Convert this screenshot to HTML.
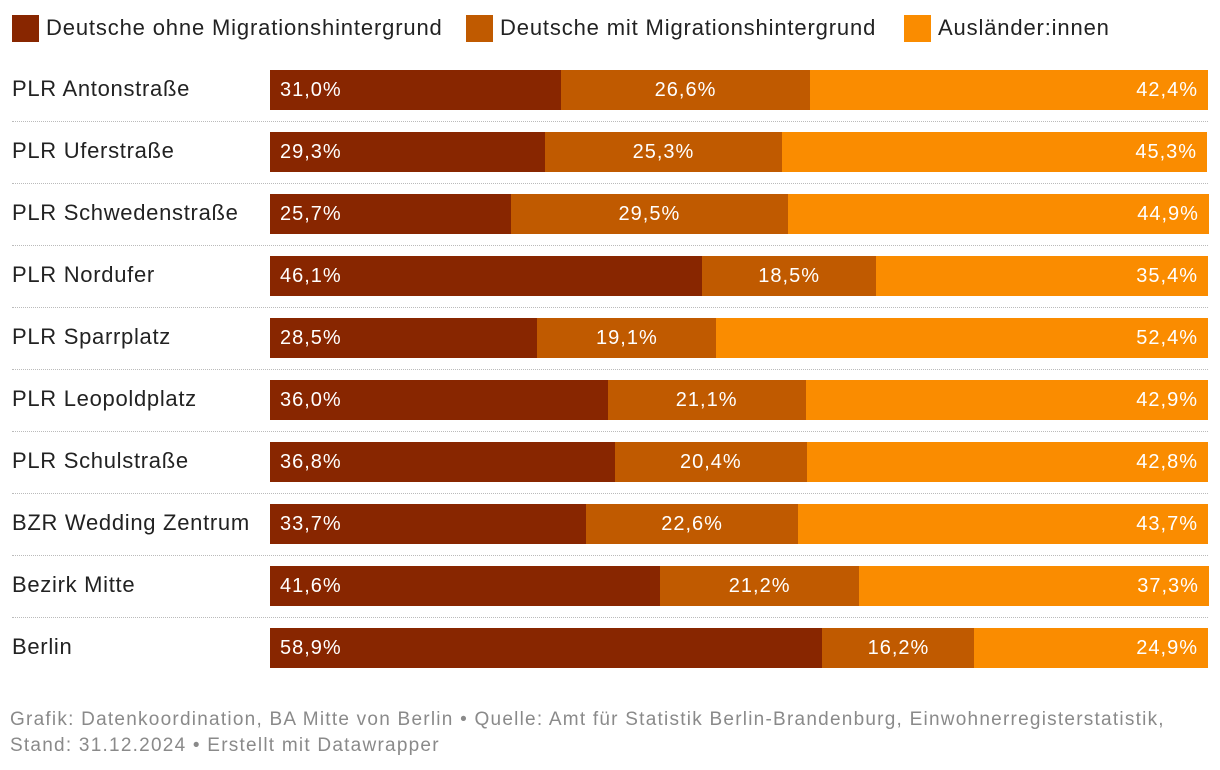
<!DOCTYPE html>
<html><head><meta charset="utf-8">
<style>
body{margin:0;background:#fff;width:1220px;height:770px;overflow:hidden;font-family:"Liberation Sans",sans-serif;position:relative}
.leg{position:absolute;top:14px;height:28px;display:flex;align-items:center;font-size:22px;letter-spacing:0.85px;color:#222;white-space:nowrap}
.sw{width:27px;height:27px;margin-right:7px}
.lbl{position:absolute;left:12px;font-size:22px;letter-spacing:0.7px;color:#222;white-space:nowrap}
.sep{position:absolute;left:12px;width:1196px;border-top:1px dotted #bbb}
.seg{position:absolute;height:40px;color:#fff;font-size:20px;letter-spacing:1px;line-height:40px;box-sizing:border-box;white-space:nowrap}
.foot{position:absolute;left:10px;font-size:19px;letter-spacing:1.24px;color:#8a8a8a;white-space:nowrap}
</style></head><body>
<div class="leg" style="left:12px"><div class="sw" style="background:#882600"></div>Deutsche ohne Migrationshintergrund</div>
<div class="leg" style="left:466px"><div class="sw" style="background:#c05a00"></div>Deutsche mit Migrationshintergrund</div>
<div class="leg" style="left:904px"><div class="sw" style="background:#fa8c00"></div>Ausländer:innen</div>
<div id="chart"></div>
<div class="foot" style="top:709px">Grafik: Datenkoordination, BA Mitte von Berlin • Quelle: Amt für Statistik Berlin-Brandenburg, Einwohnerregisterstatistik,</div>
<div class="foot" style="top:735px">Stand: 31.12.2024 • Erstellt mit Datawrapper</div>
<script>
const categories=["PLR Antonstraße","PLR Uferstraße","PLR Schwedenstraße","PLR Nordufer","PLR Sparrplatz","PLR Leopoldplatz","PLR Schulstraße","BZR Wedding Zentrum","Bezirk Mitte","Berlin"];
const ohne=[31.0,29.3,25.7,46.1,28.5,36.0,36.8,33.7,41.6,58.9];
const mit=[26.6,25.3,29.5,18.5,19.1,21.1,20.4,22.6,21.2,16.2];
const ausl=[42.4,45.3,44.9,35.4,52.4,42.9,42.8,43.7,37.3,24.9];
const X0=270,W=938,Y0=70,PITCH=62;
const x=v=>v/100*W;
const fmt=v=>v.toFixed(1).replace('.',',')+'%';
const c=document.getElementById('chart');
categories.forEach((name,i)=>{
  const y=Y0+i*PITCH;
  const l=document.createElement('div');
  l.className='lbl';l.style.top=(y+6)+'px';l.textContent=name;
  
  
  c.appendChild(l);
  if(i<categories.length-1){
    const s=document.createElement('div');s.className='sep';s.style.top=(y+51)+'px';
    
    
    c.appendChild(s);
  }
  const vals=[ohne[i],mit[i],ausl[i]],cols=['#882600','#c05a00','#fa8c00'],al=['left','center','right'];
  let acc=0;
  vals.forEach((v,k)=>{
    const b=document.createElement('div');b.className='seg';
    b.style.left=(X0+x(acc))+'px';b.style.top=y+'px';b.style.width=x(v)+'px';
    b.style.background=cols[k];b.style.textAlign=al[k];
    b.style.padding=k==0?'0 0 0 10px':k==2?'0 10px 0 0':'0';
    b.textContent=fmt(v);
    
    
    c.appendChild(b);acc+=v;
  });
});
</script>
</body></html>
